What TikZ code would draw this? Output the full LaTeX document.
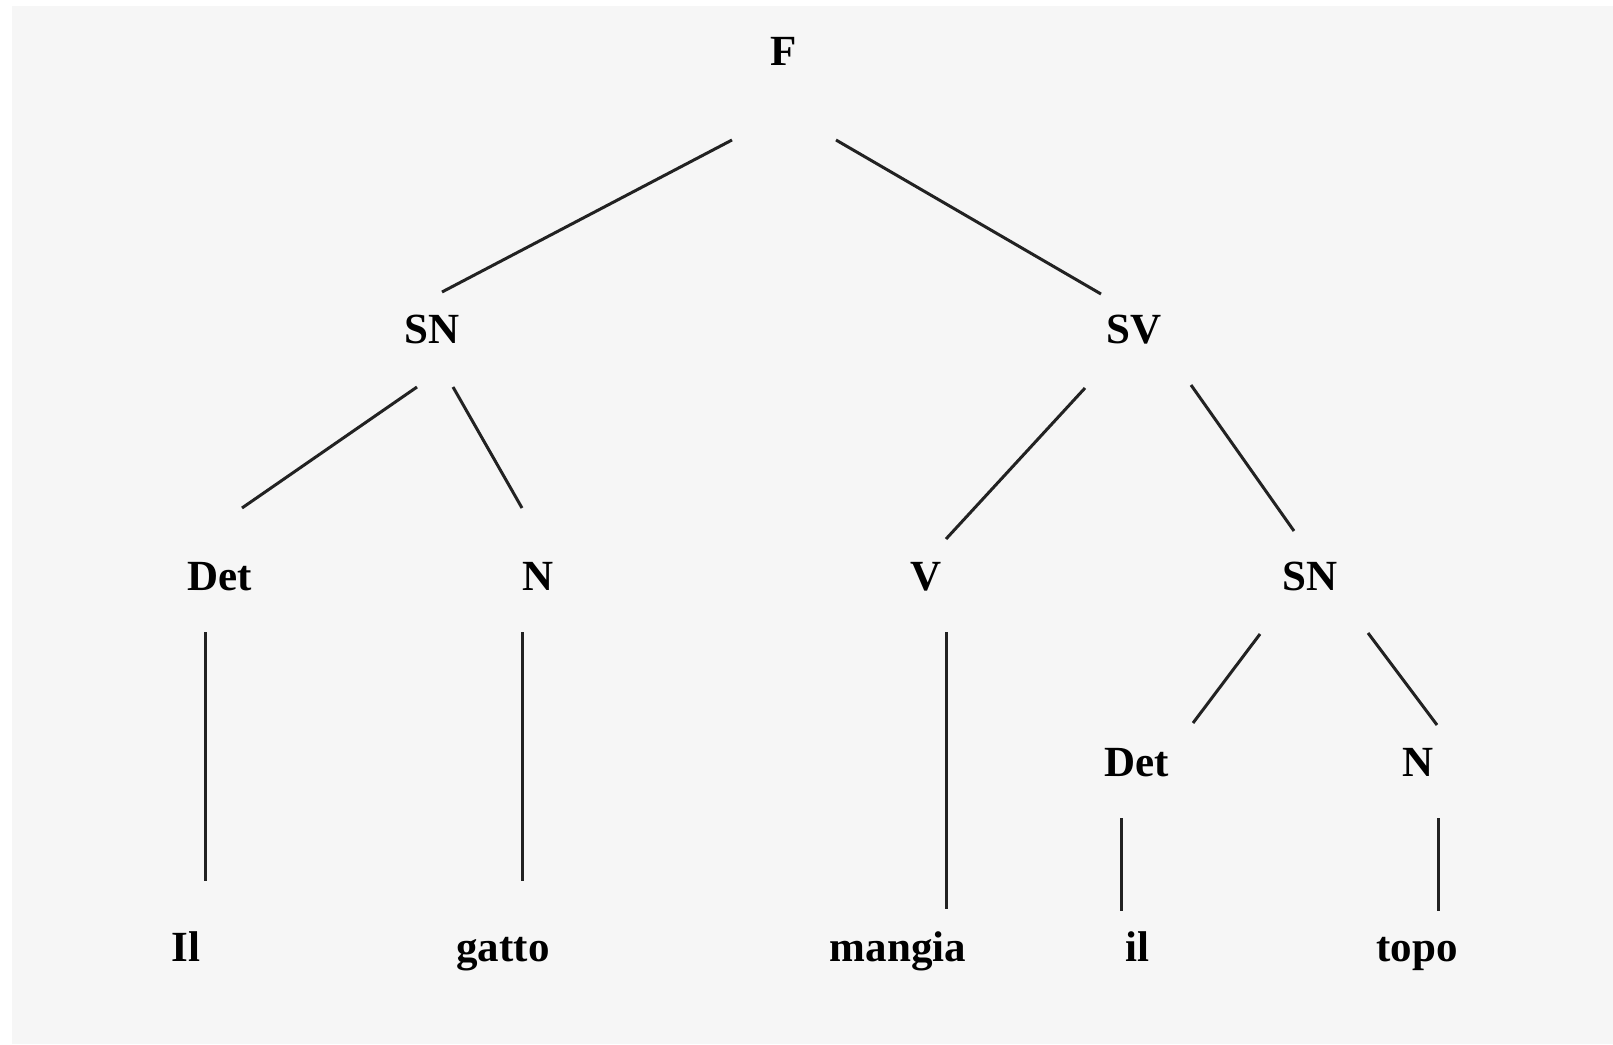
\documentclass[tikz,border=0pt]{standalone}
\usepackage{fontspec}
\setmainfont{Liberation Serif}
\definecolor{bggray}{HTML}{F6F6F6}
\definecolor{linec}{HTML}{222222}
\begin{document}
\begin{tikzpicture}[x=1pt,y=-1pt,
  lab/.style={anchor=base,inner sep=0pt,font=\fontsize{43}{48}\selectfont\bfseries,text=black},
  edge/.style={draw=linec,line width=3pt}]
\useasboundingbox (0,0) rectangle (1613,1044);
\fill[white] (0,0) rectangle (1613,1044);
\fill[bggray] (12,6) rectangle (1613,1044);
% nodes
\node[lab] (F) at (784,65) {F};
\node[lab] (SN) at (432,343) {SN};
\node[lab] (SV) at (1134,343) {SV};
\node[lab] (Det) at (220,590) {Det};
\node[lab] (N) at (538,590) {N};
\node[lab] (V) at (926,590) {V};
\node[lab] (SNb) at (1310,590) {SN};
\node[lab] (Detb) at (1137,776) {Det};
\node[lab] (Nb) at (1418,776) {N};
\node[lab] (Il) at (186,961) {Il};
\node[lab] (gatto) at (503,961) {gatto};
\node[lab] (mangia) at (898,961) {mangia};
\node[lab] (il) at (1137,961) {il};
\node[lab] (topo) at (1417,961) {topo};
% connectors
\draw[edge] ([shift={(-52,75)}]F.base) -- ([shift={(10,-51)}]SN.base);
\draw[edge] ([shift={(52,75)}]F.base) -- ([shift={(-33,-49)}]SV.base);
\draw[edge] ([shift={(-15,44)}]SN.base) -- ([shift={(22,-82)}]Det.base);
\draw[edge] ([shift={(21,44)}]SN.base) -- ([shift={(-16,-82)}]N.base);
\draw[edge] ([shift={(-49,45)}]SV.base) -- ([shift={(20,-51)}]V.base);
\draw[edge] ([shift={(57,42)}]SV.base) -- ([shift={(-16,-59)}]SNb.base);
\draw[edge] ([shift={(-50,44)}]SNb.base) -- ([shift={(56,-53)}]Detb.base);
\draw[edge] ([shift={(58,43)}]SNb.base) -- ([shift={(19,-51)}]Nb.base);
\draw[edge] ([shift={(-15,42)}]Det.base) -- ([shift={(19,-80)}]Il.base);
\draw[edge] ([shift={(-16,42)}]N.base) -- ([shift={(19,-80)}]gatto.base);
\draw[edge] ([shift={(20,42)}]V.base) -- ([shift={(48,-52)}]mangia.base);
\draw[edge] ([shift={(-16,42)}]Detb.base) -- ([shift={(-16,-50)}]il.base);
\draw[edge] ([shift={(20,42)}]Nb.base) -- ([shift={(21,-50)}]topo.base);
\end{tikzpicture}
\end{document}
